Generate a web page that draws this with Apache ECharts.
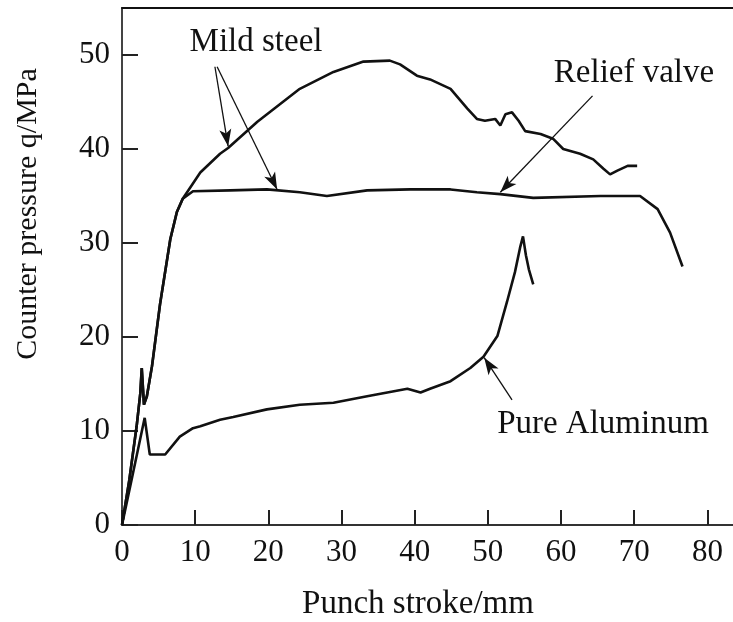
<!DOCTYPE html>
<html>
<head>
<meta charset="utf-8">
<script src="https://cdn.jsdelivr.net/npm/echarts@6/dist/echarts.min.js"></script>
<style>
html,body{margin:0;padding:0;background:#fff;}
#chart{width:733px;height:622px;}
</style>
</head>
<body>
<div id="chart"></div>
<script>
// ---- data ----
const xTicks = [0, 10, 20, 30, 40, 50, 60, 70, 80];
const yTicks = [0, 10, 20, 30, 40, 50];

const mildSteelStroke = [0, 1.0, 2.0, 2.5, 2.7, 3.0, 3.4, 4.1, 5.2, 6.6, 7.5, 8.3, 10.7, 13.4, 14.5, 18.5, 24.3, 28.9, 33.0, 36.6, 38.0, 40.3, 42.1, 44.9, 47.2, 48.5, 49.6, 51.0, 51.7, 52.4, 53.3, 54.2, 55.1, 57.2, 58.9, 60.3, 62.6, 64.4, 65.8, 66.7, 67.7, 69.1, 70.4];
const mildSteelPressure = [0, 4.8, 10.5, 14.0, 16.7, 12.8, 13.7, 16.9, 23.5, 30.4, 33.3, 34.7, 37.5, 39.5, 40.1, 42.9, 46.4, 48.2, 49.3, 49.4, 49.0, 47.8, 47.4, 46.4, 44.3, 43.2, 43.0, 43.2, 42.5, 43.7, 43.9, 43.0, 41.9, 41.6, 41.1, 40.0, 39.5, 38.9, 37.9, 37.3, 37.7, 38.2, 38.2];

const reliefStroke = [0, 1.0, 2.0, 2.5, 2.7, 3.0, 3.4, 4.1, 5.2, 6.6, 7.5, 8.3, 9.7, 14.8, 19.8, 24.3, 28.0, 33.5, 39.4, 44.9, 48.5, 51.7, 56.2, 65.4, 70.8, 73.2, 74.9, 76.6];
const reliefPressure = [0, 4.8, 10.5, 14.0, 16.7, 12.8, 13.7, 16.9, 23.5, 30.4, 33.3, 34.7, 35.5, 35.6, 35.7, 35.4, 35.0, 35.6, 35.7, 35.7, 35.4, 35.2, 34.8, 35.0, 35.0, 33.6, 31.1, 27.5];

const aluminumStroke = [0, 1.5, 3.1, 3.8, 5.9, 7.9, 9.7, 10.7, 13.4, 15.2, 19.8, 24.3, 28.9, 33.5, 39.0, 40.8, 42.1, 44.9, 47.6, 49.4, 51.3, 52.6, 53.7, 54.4, 54.8, 55.2, 55.6, 56.2];
const aluminumPressure = [0, 5.5, 11.4, 7.5, 7.5, 9.4, 10.3, 10.5, 11.2, 11.5, 12.3, 12.8, 13.0, 13.7, 14.5, 14.1, 14.5, 15.3, 16.7, 17.9, 20.1, 23.7, 26.9, 29.5, 30.7, 28.7, 27.2, 25.6];

// annotation arrows in data coordinates: [fromX, fromY, toX, toY, curveness]
const arrowMildSteel1 = [12.7, 48.75, 14.5, 40.3, 0.03];
const arrowMildSteel2 = [13.0, 48.75, 21.2, 35.7, 0.17];
const arrowRelief = [64.3, 45.65, 51.7, 35.4, 0.1];
const arrowAluminum = [53.3, 13.3, 49.5, 17.8, 0.05];

const labelMildSteel = 'Mild steel';
const labelRelief = 'Relief valve';
const labelAluminum = 'Pure Aluminum';
const xName = 'Punch stroke/mm';
const yName = 'Counter pressure q/MPa';

// ---- build ----
const zip = (xs, ys) => xs.map((x, i) => [x, ys[i]]);
const FONT = '"Liberation Serif", "Times New Roman", serif';
const INK = '#111';

function arrow(a) {
  return [
    { coord: [a[0], a[1]], symbol: 'none', lineStyle: { curveness: a[4], color: INK, width: 1.3, type: 'solid' } },
    { coord: [a[2], a[3]], symbol: 'arrow', symbolSize: [9, 17] }
  ];
}

const curveStyle = { color: INK, width: 2.6 };

const option = {
  animation: false,
  backgroundColor: '#fff',
  grid: { left: 122, top: 8, right: 0, bottom: 97, containLabel: false },
  xAxis: [{
    type: 'value', min: 0, max: 83.5, position: 'bottom',
    axisLine: { show: true, onZero: false, lineStyle: { color: '#333', width: 2 } },
    axisTick: { show: true, inside: true, length: 15, customValues: xTicks, lineStyle: { color: '#222', width: 2 } },
    axisLabel: { show: true, customValues: xTicks, margin: 12, color: INK, fontSize: 31, fontFamily: FONT },
    splitLine: { show: false }
  }, {
    type: 'value', min: 0, max: 83.5, position: 'top',
    axisLine: { show: true, onZero: false, lineStyle: { color: INK, width: 2 } },
    axisTick: { show: false }, axisLabel: { show: false }, splitLine: { show: false }
  }],
  yAxis: {
    type: 'value', min: 0, max: 55,
    axisLine: { show: true, onZero: false, lineStyle: { color: '#444', width: 2 } },
    axisTick: { show: true, inside: true, length: 16, customValues: yTicks, lineStyle: { color: '#222', width: 2 } },
    axisLabel: { show: true, customValues: yTicks, margin: 12, color: INK, fontSize: 31, fontFamily: FONT },
    splitLine: { show: false }
  },
  series: [
    { name: 'Mild steel', type: 'line', xAxisIndex: 0, data: zip(mildSteelStroke, mildSteelPressure), showSymbol: false, symbol: 'none', lineStyle: curveStyle, z: 3 },
    { name: 'Relief valve', type: 'line', xAxisIndex: 0, data: zip(reliefStroke, reliefPressure), showSymbol: false, symbol: 'none', lineStyle: curveStyle, z: 3,
      markLine: {
        silent: true, animation: false,
        label: { show: false },
        lineStyle: { color: INK, width: 1.3, type: 'solid' },
        itemStyle: { color: INK },
        emphasis: { disabled: true },
        data: [arrow(arrowMildSteel1), arrow(arrowMildSteel2), arrow(arrowRelief), arrow(arrowAluminum)]
      }
    },
    { name: 'Pure Aluminum', type: 'line', xAxisIndex: 0, data: zip(aluminumStroke, aluminumPressure), showSymbol: false, symbol: 'none', lineStyle: curveStyle, z: 3 }
  ],
  graphic: [
    { type: 'text', x: 256, y: 42, style: { text: labelMildSteel, font: '33px ' + FONT, fill: INK, align: 'center', verticalAlign: 'middle' } },
    { type: 'text', x: 634, y: 73, style: { text: labelRelief, font: '33px ' + FONT, fill: INK, align: 'center', verticalAlign: 'middle' } },
    { type: 'text', x: 603, y: 424, style: { text: labelAluminum, font: '33px ' + FONT, fill: INK, align: 'center', verticalAlign: 'middle' } },
    { type: 'text', x: 418, y: 604, style: { text: xName, font: '33px ' + FONT, fill: INK, align: 'center', verticalAlign: 'middle' } },
    { type: 'text', x: 28, y: 214, rotation: Math.PI / 2, style: { text: yName, font: '30px ' + FONT, fill: INK, align: 'center', verticalAlign: 'middle' } }
  ]
};

const chart = echarts.init(document.getElementById('chart'), null, { renderer: 'canvas' });
chart.setOption(option);
</script>
</body>
</html>
